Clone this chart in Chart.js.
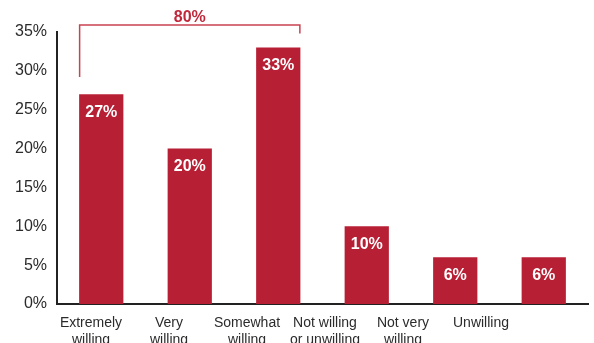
<!DOCTYPE html>
<html>
<head>
<meta charset="utf-8">
<script src="https://cdn.jsdelivr.net/npm/chart.js@4.4.0/dist/chart.umd.min.js"></script>
<style>
  html, body { margin: 0; padding: 0; background: #fff; }
  canvas { display: block; }
</style>
</head>
<body>
<canvas id="chart" width="594" height="343"></canvas>
<script>
// Willingness answers, share of respondents (%)
const categories = [
  ['Extremely', 'willing'],
  ['Very', 'willing'],
  ['Somewhat', 'willing'],
  ['Not willing', 'or unwilling'],
  ['Not very', 'willing'],
  ['Unwilling']
];
const shares = [27, 20, 33, 10, 6, 6];
const yMax = 35;
const yStep = 5;

// bracket over the first three answers (the "willing" total)
const bracketFrom = 0;
const bracketTo = 2;
const bracketTotal = shares.slice(bracketFrom, bracketTo + 1).reduce((a, b) => a + b, 0);

const RED = '#b71f34';
const FONT = '"Liberation Sans", Arial, Helvetica, sans-serif';

const barLabels = {
  id: 'barLabels',
  afterDatasetsDraw(chart) {
    const ctx = chart.ctx;
    const y = chart.scales.y;
    const bars = chart.getDatasetMeta(0).data;

    ctx.save();
    ctx.fillStyle = '#fff';
    ctx.font = 'bold 16px ' + FONT;
    ctx.textAlign = 'center';
    ctx.textBaseline = 'middle';
    bars.forEach((bar, i) => {
      ctx.fillText(shares[i] + '%', bar.x, bar.y + 18);
    });

    // bracket: left end just above the first bar, right end near the third
    const a = bars[bracketFrom], b = bars[bracketTo];
    const x0 = a.x - a.width / 2 + 0.5;
    const x1 = b.x + b.width / 2 - 0.5;
    const top = y.getPixelForValue(35.9);
    ctx.strokeStyle = '#c94352';
    ctx.lineWidth = 1.5;
    ctx.beginPath();
    ctx.moveTo(x0, y.getPixelForValue(29.2));
    ctx.lineTo(x0, top);
    ctx.lineTo(x1, top);
    ctx.lineTo(x1, y.getPixelForValue(34.8));
    ctx.stroke();

    ctx.fillStyle = '#c0283c';
    ctx.textBaseline = 'alphabetic';
    ctx.fillText(bracketTotal + '%', (x0 + x1) / 2, top - 3);
    ctx.restore();
  }
};

new Chart(document.getElementById('chart'), {
  type: 'bar',
  data: {
    labels: categories,
    datasets: [{
      data: shares,
      backgroundColor: RED,
      barPercentage: 1,
      categoryPercentage: 0.5
    }]
  },
  options: {
    responsive: false,
    animation: false,
    layout: { padding: { top: 32, right: 6, left: 0, bottom: 0 } },
    plugins: { legend: { display: false }, tooltip: { enabled: false } },
    scales: {
      y: {
        min: 0,
        max: yMax,
        ticks: {
          stepSize: yStep,
          padding: 10,
          color: '#2b2b2b',
          font: { family: FONT, size: 16 },
          callback: v => v + '%'
        },
        grid: { display: false, drawTicks: false },
        border: { display: true, color: '#222', width: 2 },
        afterFit: s => { s.width = 57; }
      },
      x: {
        ticks: { display: false },
        grid: { display: false, drawTicks: false },
        border: { display: true, color: '#222', width: 2 },
        afterFit: s => { s.height = 0; }
      },
      // the answer labels sit on their own, slightly tighter axis
      xLabels: {
        type: 'linear',
        position: 'bottom',
        offset: false,
        min: -0.436,
        max: 6.372,
        afterBuildTicks: s => { s.ticks = categories.map((c, i) => ({ value: i })); },
        ticks: {
          autoSkip: false,
          maxRotation: 0,
          padding: 10,
          color: '#2b2b2b',
          font: { family: FONT, size: 14, lineHeight: 1.25 },
          callback: v => categories[v]
        },
        grid: { display: false, drawTicks: false, offset: false },
        border: { display: false },
        afterFit: s => { s.height = 39; }
      }
    }
  },
  plugins: [barLabels]
});
</script>
</body>
</html>
